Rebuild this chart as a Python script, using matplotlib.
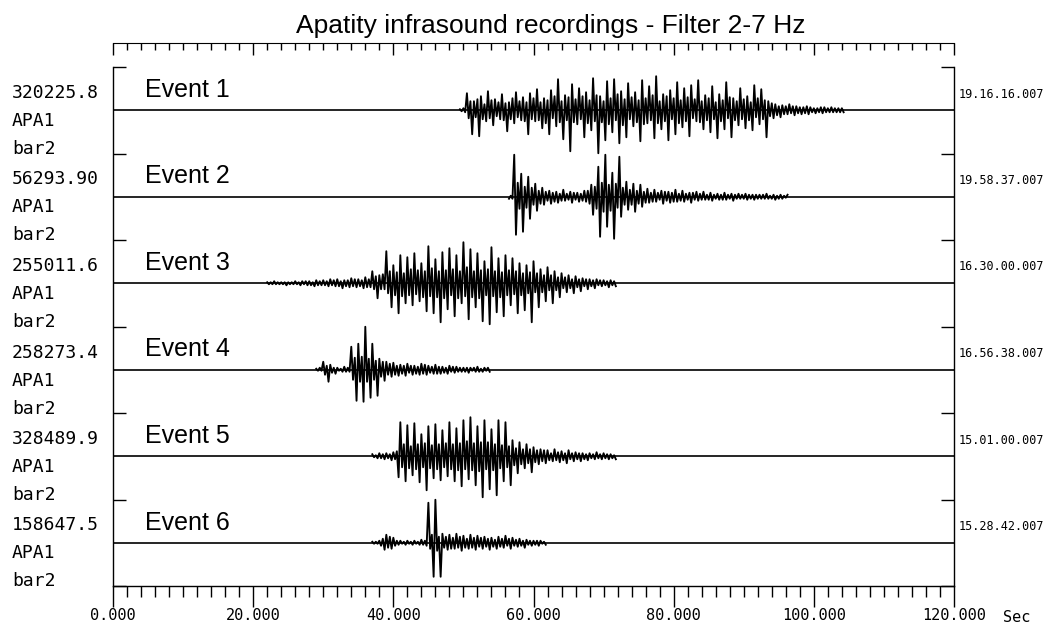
import numpy as np
import matplotlib.pyplot as plt
from matplotlib.ticker import MultipleLocator, FormatStrFormatter

# texts
title = 'Apatity infrasound recordings - Filter 2-7 Hz'
event_names = ['Event 1', 'Event 2', 'Event 3', 'Event 4', 'Event 5', 'Event 6']
amp_labels = ['320225.8', '56293.90', '255011.6', '258273.4', '328489.9', '158647.5']
station = 'APA1'
channel = 'bar2'
start_times = ['19.16.16.007', '19.58.37.007', '16.30.00.007',
               '16.56.38.007', '15.01.00.007', '15.28.42.007']

# signed peak values (pixels of the original plot),
# one every 0.25 s starting at t0; the rest of each trace is the flat baseline
ev1_t0 = 49.5
ev1_peaks = [1, -1, 2, -2, 17, -8, 9, -24, 9, -7, 11, -26, 14, -9, 6, -11, 19, -8, 10, -15,
             11, -6, 8, -9, 16, -10, 7, -21, 8, -9, 12, -13, 18, -7, 9, -10, 13, -11, 8, -24,
             17, -9, 12, -11, 21, -10, 8, -18, 12, -13, 10, -24, 20, -8, 14, -16, 31, -12, 9, -29,
             15, -10, 13, -41, 26, -12, 11, -14, 22, -9, 14, -27, 18, -13, 10, -20, 32, -11, 15, -43,
             14, -12, 9, -30, 29, -14, 12, -22, 31, -10, 16, -33, 19, -15, 11, -27, 27, -9, 13, -16,
             18, -12, 10, -31, 30, -14, 12, -13, 24, -10, 15, -28, 34, -13, 9, -19, 16, -11, 14, -30,
             20, -9, 12, -24, 28, -13, 10, -17, 22, -11, 13, -26, 25, -8, 11, -11, 30, -12, 9, -19,
             15, -10, 12, -22, 24, -9, 8, -28, 16, -11, 10, -19, 28, -8, 13, -27, 12, -10, 9, -15,
             22, -9, 11, -18, 14, -10, 8, -20, 25, -7, 12, -14, 21, -9, 10, -27, 9, -6, 7, -8,
             6, -5, 4, -7, 5, -4, 4, -4, 6, -3, 4, -5, 4, -3, 3, -4, 3, -3, 4, -4,
             3, -2, 2, -3, 2, -2, 3, -3, 3, -2, 2, -2, 3, -2, 2, -2, 2, -2, 2, -2]

ev2_t0 = 56.5
ev2_peaks = [-2, 1, -2, 42, -38, 14, -12, 23, -35, 10, -11, 20, -22, 9, -8, 13, -14, 6, -7, 9,
             -8, 5, -4, 6, -7, 4, -5, 5, -6, 3, -4, 7, -4, 3, -3, 5, -6, 4, -3, 4,
             -5, 3, -4, 6, -5, 6, -7, 12, -18, 10, -12, 30, -40, 14, -15, 42, -30, 12, -14, 24,
             -42, 13, -11, 40, -20, 9, -8, 15, -13, 7, -8, 13, -15, 6, -7, 12, -10, 5, -6, 8,
             -6, 4, -5, 7, -5, 4, -3, 6, -7, 5, -4, 5, -6, 4, -5, 7, -5, 3, -4, 6,
             -5, 3, -3, 4, -6, 4, -3, 5, -4, 3, -3, 5, -3, 2, -3, 4, -4, 2, -2, 3,
             -3, 2, -3, 4, -3, 2, -2, 3, -4, 2, -2, 3, -2, 2, -2, 3, -3, 2, -2, 2,
             -3, 2, -2, 2, -2, 2, -2, 3, -2, 1, -2, 2, -3, 1, -2, 2, -2, 1, -1, 2]

ev3_t0 = 22.0
ev3_peaks = [1, -1, 1, -1, 2, -1, 1, -1, 1, -1, 1, -2, 1, -1, 1, -1, 2, -1, 1, -2,
             2, -1, 2, -2, 2, -2, 1, -3, 3, -2, 2, -2, 3, -2, 2, -3, 4, -2, 3, -3,
             4, -3, 2, -5, 3, -3, 3, -4, 5, -3, 4, -4, 4, -3, 3, -5, 6, -4, 4, -4,
             12, -6, 7, -15, 8, -6, 9, -6, 32, -10, 12, -24, 18, -12, 11, -30, 28, -13, 10, -20,
             26, -12, 14, -22, 30, -11, 13, -18, 20, -14, 12, -28, 37, -13, 15, -30, 24, -14, 12, -39,
             31, -15, 13, -26, 35, -12, 14, -33, 28, -15, 12, -20, 41, -13, 16, -36, 34, -14, 12, -24,
             30, -15, 13, -38, 22, -12, 14, -41, 36, -13, 12, -29, 25, -14, 11, -33, 28, -12, 13, -22,
             25, -11, 12, -30, 20, -12, 10, -27, 18, -10, 11, -39, 22, -9, 10, -24, 14, -9, 8, -18,
             16, -7, 8, -20, 12, -7, 6, -14, 10, -5, 6, -9, 8, -5, 4, -10, 7, -4, 4, -8,
             5, -3, 4, -6, 4, -3, 3, -5, 4, -2, 3, -3, 3, -2, 2, -4, 3, -2, 2, -3]

ev4_t0 = 29.0
ev4_peaks = [1, -1, 2, -1, 8, -5, 4, -12, 5, -3, 2, -4, 2, -1, 1, -2, 3, -2, 2, -2,
             23, -10, 12, -31, 26, -12, 13, -32, 43, -12, 11, -28, 26, -10, 9, -26, 11, -7, 8, -11,
             8, -5, 6, -7, 7, -5, 4, -6, 5, -4, 4, -6, 6, -3, 4, -5, 4, -4, 3, -5,
             6, -4, 5, -5, 4, -3, 3, -4, 5, -4, 3, -4, 3, -3, 2, -4, 4, -2, 3, -3,
             3, -2, 2, -2, 2, -2, 2, -3, 2, -1, 2, -2, 3, -2, 1, -2, 2, -1, 2, -2]

ev5_t0 = 37.0
ev5_peaks = [2, -1, 1, -2, 3, -2, 2, -3, 3, -2, 2, -4, 4, -3, 5, -21, 34, -11, 12, -25,
             31, -12, 10, -19, 33, -13, 12, -26, 22, -11, 13, -34, 30, -12, 11, -22, 32, -13, 12, -24,
             26, -11, 13, -20, 34, -13, 12, -25, 28, -14, 13, -30, 36, -13, 15, -23, 39, -14, 13, -29,
             30, -15, 14, -41, 36, -13, 14, -33, 27, -14, 12, -39, 36, -12, 11, -25, 34, -11, 10, -29,
             16, -9, 8, -17, 14, -8, 7, -12, 12, -7, 7, -16, 9, -6, 6, -8, 7, -5, 6, -7,
             6, -4, 3, -5, 7, -4, 4, -6, 5, -4, 3, -7, 6, -3, 3, -5, 4, -3, 3, -5,
             3, -3, 2, -4, 3, -2, 2, -3, 4, -2, 2, -3, 3, -2, 2, -3, 2, -2, 1, -3]

ev6_t0 = 37.0
ev6_peaks = [1, -1, 1, -1, 2, -3, 4, -7, 8, -5, 6, -6, 5, -3, 2, -2, 2, -1, 1, -2,
             2, -1, 1, -2, 2, -1, 1, -2, 3, -2, 2, -3, 40, -6, 8, -34, 43, -8, 6, -34,
             9, -5, 6, -7, 8, -6, 5, -6, 9, -5, 6, -8, 7, -5, 4, -6, 8, -5, 5, -7,
             7, -4, 5, -6, 6, -4, 4, -7, 5, -4, 3, -6, 6, -4, 4, -5, 7, -3, 4, -6,
             5, -3, 3, -4, 4, -3, 2, -5, 3, -2, 2, -3, 2, -2, 2, -3, 2, -1, 1, -2]

traces = [(ev1_t0, ev1_peaks), (ev2_t0, ev2_peaks), (ev3_t0, ev3_peaks),
          (ev4_t0, ev4_peaks), (ev5_t0, ev5_peaks), (ev6_t0, ev6_peaks)]

W, H = 1048, 626
band = 86.5  # pixels per trace band, amplitudes above are in the same units
mono = 'DejaVu Sans Mono'
sans = 'Liberation Sans'

fig = plt.figure(figsize=(W / 100, H / 100), dpi=100)

ax = fig.add_axes([113 / W, 1 - 586 / H, 841 / W, 519 / H])
ax.set_xlim(0, 120)
ax.set_ylim(0, 6)

for k, (t0, peaks) in enumerate(traces):
    base = 5.5 - k
    ax.plot([0, 120], [base, base], color='black', lw=1.2)
    t = t0 + 0.25 * np.arange(len(peaks))
    ax.plot(t, base + np.array(peaks) / band, color='black', lw=1.35)

ax.spines['top'].set_visible(False)
for s in ['left', 'right', 'bottom']:
    ax.spines[s].set_linewidth(1.0)

ax.set_yticks(np.arange(0, 7))
ax.tick_params(axis='y', direction='in', length=9.5, width=1.0,
               left=True, right=True, labelleft=False, labelright=False)

ax.xaxis.set_major_locator(MultipleLocator(20))
ax.xaxis.set_minor_locator(MultipleLocator(2))
ax.xaxis.set_major_formatter(FormatStrFormatter('%.3f'))
ax.tick_params(axis='x', which='major', direction='out', length=15, width=1.0, pad=0.5)
ax.tick_params(axis='x', which='minor', direction='out', length=8, width=1.0)
for lab in ax.get_xticklabels():
    lab.set_fontfamily(mono)
    lab.set_fontsize(11)

# top ruler
axr = fig.add_axes([113 / W, 1 - 43 / H, 841 / W, 0.0001])
axr.set_xlim(0, 120)
axr.patch.set_visible(False)
for s in ['left', 'right', 'top']:
    axr.spines[s].set_visible(False)
axr.set_yticks([])
axr.xaxis.set_major_locator(MultipleLocator(20))
axr.xaxis.set_minor_locator(MultipleLocator(2))
axr.tick_params(axis='x', which='major', direction='out', length=8.6, width=1.0, labelbottom=False)
axr.tick_params(axis='x', which='minor', direction='out', length=5, width=1.0)

fig.text(551 / W, 1 - 33 / H, title, ha='center', va='baseline', fontsize=19, family=sans)
fig.text(1003 / W, 1 - 617 / H, 'Sec', ha='left', va='center', fontsize=11, family=mono)

for k in range(6):
    top = 67 + band * k
    fig.text(145 / W, 1 - (top + 30) / H, event_names[k], ha='left', va='baseline',
             fontsize=18, family=sans)
    fig.text(12 / W, 1 - (top + 26) / H, amp_labels[k], ha='left', va='center',
             fontsize=13, family=mono)
    fig.text(12 / W, 1 - (top + 54) / H, station, ha='left', va='center',
             fontsize=13, family=mono)
    fig.text(12 / W, 1 - (top + 82) / H, channel, ha='left', va='center',
             fontsize=13, family=mono)
    fig.text(959 / W, 1 - (top + 27) / H, start_times[k], ha='left', va='center',
             fontsize=8.5, family=mono)

fig.savefig('out.png', dpi=100)
